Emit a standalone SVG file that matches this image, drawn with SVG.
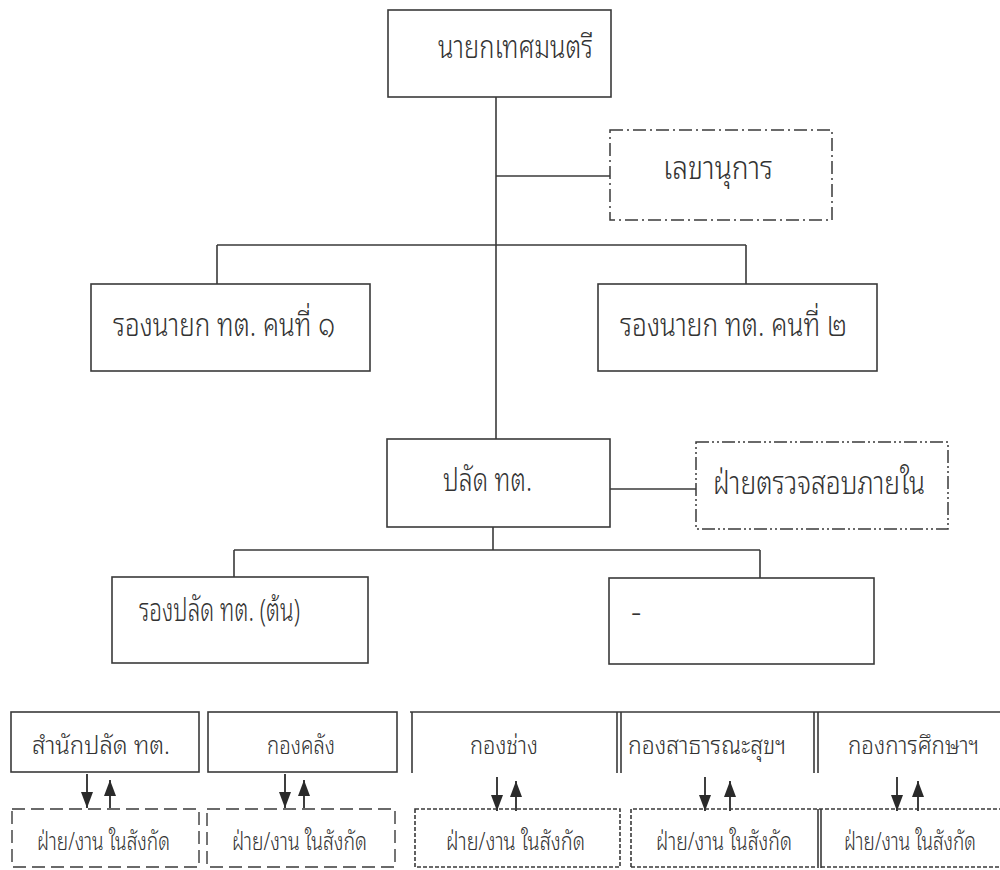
<svg xmlns="http://www.w3.org/2000/svg" width="1000" height="870" viewBox="0 0 1000 870">
<defs>
<style>
.bg{fill:#ffffff}
.box{fill:none;stroke:#3a3a3a;stroke-width:1.6}
.dd{fill:none;stroke:#3a3a3a;stroke-width:1.5;stroke-dasharray:13 4 2 4}
.ddd{fill:none;stroke:#3a3a3a;stroke-width:1.5;stroke-dasharray:13 3 2 3 2 3}
.dash{fill:none;stroke:#3a3a3a;stroke-width:1.4;stroke-dasharray:13 6}
.fine{fill:none;stroke:#3a3a3a;stroke-width:1.6;stroke-dasharray:4 2}
.ln{fill:none;stroke:#3a3a3a;stroke-width:1.6}
.arr{fill:none;stroke:#2a2a2a;stroke-width:1.8}
.t{font-family:'Noto Sans Thai Looped','Noto Serif Thai','Noto Sans Thai','Noto Sans','DejaVu Sans',sans-serif;fill:#333333;font-weight:300}
.big{font-size:32px}
.sm{font-size:25px}
</style>
<marker id="ah" markerWidth="16" markerHeight="12" viewBox="0 0 16 12" refX="16" refY="6" orient="auto" markerUnits="userSpaceOnUse">
<path d="M0 0 L16 6 L0 12 Z" fill="#2a2a2a"/>
</marker>
</defs>
<rect class="bg" x="0" y="0" width="1000" height="870"/>

<g id="connectors">
<path class="ln" d="M496 97 V439"/>
<path class="ln" d="M496 176 H610"/>
<path class="ln" d="M217 245 H746 M217 245 V284 M746 245 V284"/>
<path class="ln" d="M610 489 H696"/>
<path class="ln" d="M493 527 V550"/>
<path class="ln" d="M234 550 H760 M234 550 V577 M760 550 V578"/>
<path class="arr" d="M87 774 V808" marker-end="url(#ah)"/>
<path class="arr" d="M110 808 V780" marker-end="url(#ah)"/>
<path class="arr" d="M285 774 V808" marker-end="url(#ah)"/>
<path class="arr" d="M304 808 V780" marker-end="url(#ah)"/>
<path class="arr" d="M497 777 V811" marker-end="url(#ah)"/>
<path class="arr" d="M516 811 V781" marker-end="url(#ah)"/>
<path class="arr" d="M705 777 V811" marker-end="url(#ah)"/>
<path class="arr" d="M730 811 V781" marker-end="url(#ah)"/>
<path class="arr" d="M897 777 V811" marker-end="url(#ah)"/>
<path class="arr" d="M918 811 V781" marker-end="url(#ah)"/>
</g>

<g id="mayor">
<rect class="box" x="388" y="10" width="223" height="87"/>
<text class="t big" x="438" y="58" textLength="155" lengthAdjust="spacingAndGlyphs">นายกเทศมนตรี</text>
</g>

<g id="secretary">
<rect class="dd" x="610" y="130" width="222" height="90"/>
<text class="t big" x="663" y="179" textLength="110" lengthAdjust="spacingAndGlyphs">เลขานุการ</text>
</g>

<g id="deputy1">
<rect class="box" x="91" y="284" width="279" height="87"/>
<text class="t big" x="113" y="336" textLength="222" lengthAdjust="spacingAndGlyphs">รองนายก ทต. คนที่ ๑</text>
</g>

<g id="deputy2">
<rect class="box" x="598" y="284" width="279" height="87"/>
<text class="t big" x="620" y="336" textLength="227" lengthAdjust="spacingAndGlyphs">รองนายก ทต. คนที่ ๒</text>
</g>

<g id="palad">
<rect class="box" x="387" y="439" width="223" height="88"/>
<text class="t big" x="443" y="491" textLength="89" lengthAdjust="spacingAndGlyphs">ปลัด ทต.</text>
</g>

<g id="audit">
<rect class="ddd" x="696" y="442" width="252" height="87"/>
<text class="t big" x="713" y="494" textLength="212" lengthAdjust="spacingAndGlyphs">ฝ่ายตรวจสอบภายใน</text>
</g>

<g id="deputy-palad">
<rect class="box" x="112" y="577" width="256" height="86"/>
<text class="t big" x="139" y="621" textLength="161" lengthAdjust="spacingAndGlyphs">รองปลัด ทต. (ต้น)</text>
</g>

<g id="blank">
<rect class="box" x="609" y="578" width="265" height="86"/>
<text class="t big" x="631" y="623">-</text>
</g>

<g id="office">
<rect class="box" x="11" y="712" width="188" height="60"/>
<text class="t sm" x="32" y="754" textLength="138" lengthAdjust="spacingAndGlyphs">สำนักปลัด ทต.</text>
</g>

<g id="finance">
<rect class="box" x="208" y="712" width="189" height="60"/>
<text class="t sm" x="267" y="754" textLength="68" lengthAdjust="spacingAndGlyphs">กองคลัง</text>
</g>

<g id="engineering">
<path class="ln" d="M410 712 H1000 M412 712 V773"/>
<text class="t sm" x="470" y="754" textLength="68" lengthAdjust="spacingAndGlyphs">กองช่าง</text>
</g>

<g id="health">
<path class="ln" d="M617 712 V773 M621 712 V773"/>
<text class="t sm" x="628" y="754" textLength="158" lengthAdjust="spacingAndGlyphs">กองสาธารณะสุขฯ</text>
</g>

<g id="education">
<path class="ln" d="M814 712 V773 M818 712 V773"/>
<text class="t sm" x="848" y="754" textLength="131" lengthAdjust="spacingAndGlyphs">กองการศึกษาฯ</text>
</g>

<g id="sub1">
<rect class="dash" x="12" y="809" width="187" height="58"/>
<text class="t sm" x="37" y="850" textLength="133" lengthAdjust="spacingAndGlyphs">ฝ่าย/งาน ในสังกัด</text>
</g>

<g id="sub2">
<rect class="dash" x="207" y="809" width="188" height="58"/>
<text class="t sm" x="232" y="850" textLength="135" lengthAdjust="spacingAndGlyphs">ฝ่าย/งาน ในสังกัด</text>
</g>

<g id="sub3">
<rect class="fine" x="415" y="809" width="205" height="58"/>
<text class="t sm" x="446" y="850" textLength="139" lengthAdjust="spacingAndGlyphs">ฝ่าย/งาน ในสังกัด</text>
</g>

<g id="sub4">
<path class="fine" d="M631 867 V809 H1000 M631 867 H816"/>
<text class="t sm" x="656" y="850" textLength="136" lengthAdjust="spacingAndGlyphs">ฝ่าย/งาน ในสังกัด</text>
</g>

<g id="sub5">
<path class="ln" d="M818 809 V868 M821 809 V868"/>
<path class="fine" d="M821 867 H1000"/>
<text class="t sm" x="844" y="850" textLength="132" lengthAdjust="spacingAndGlyphs">ฝ่าย/งาน ในสังกัด</text>
</g>
</svg>
